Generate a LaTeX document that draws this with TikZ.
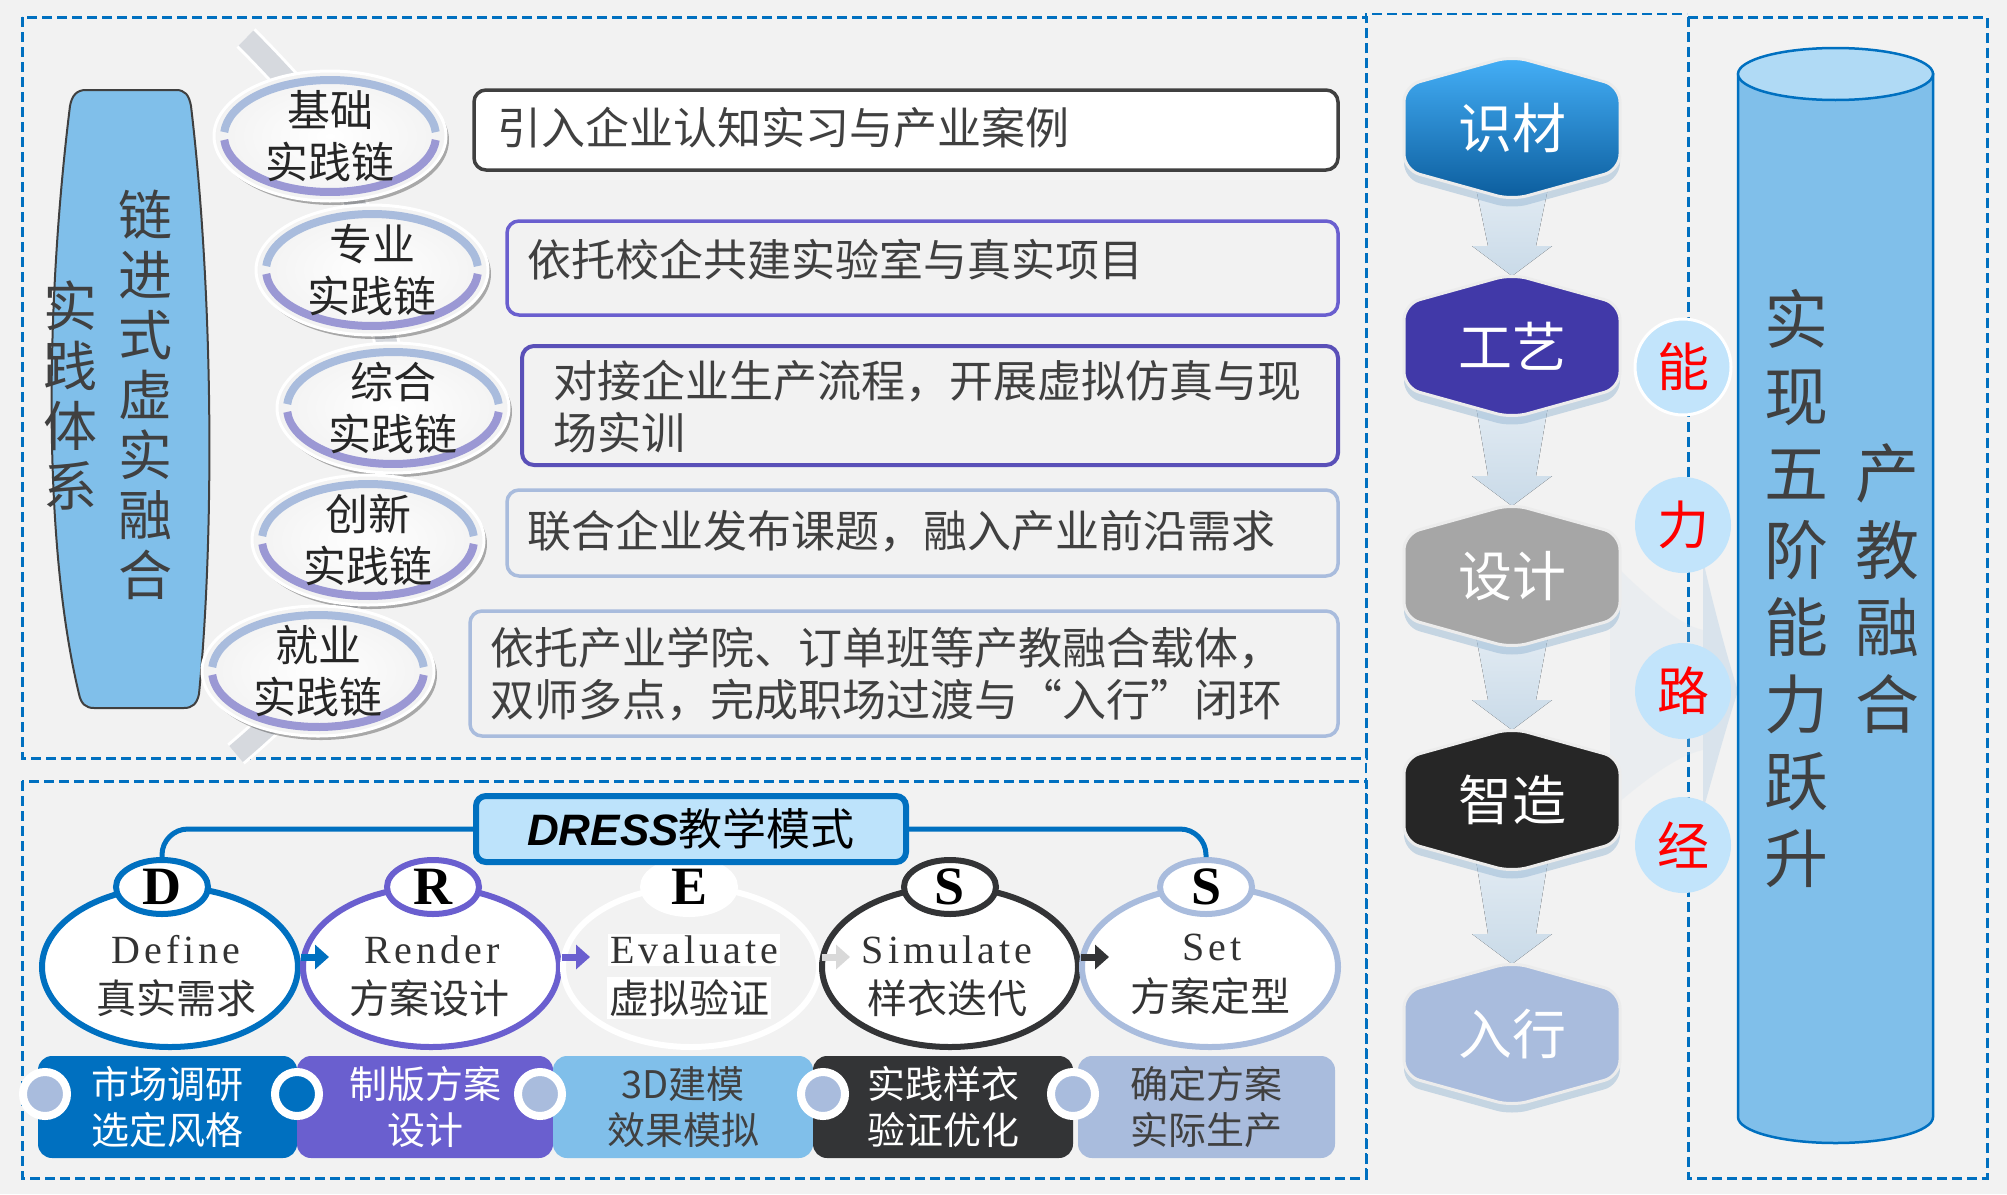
\documentclass[tikz,border=0pt]{standalone}
\usepackage{fontspec}
\setmainfont{Liberation Serif}
\newfontfamily\cjk{Noto Sans CJK SC}
\newfontfamily\dressfont{Liberation Sans}
\newfontfamily\wideserif[LetterSpace=10]{Liberation Serif}
\usetikzlibrary{arrows.meta,shapes.geometric,shadows,positioning}

\definecolor{pagebg}{HTML}{F2F2F2}
\definecolor{frameblue}{HTML}{0070C0}
\definecolor{textgray}{HTML}{404040}
\definecolor{skyfill}{HTML}{80BFEA}
\definecolor{skylight}{HTML}{B0DAF5}
\definecolor{paleblue}{HTML}{BDE3FB}
\definecolor{bubblefill}{HTML}{C2E4FB}
\definecolor{lavender}{HTML}{A9BCDD}
\definecolor{purpleline}{HTML}{6A5FCF}
\definecolor{deepviolet}{HTML}{5A50B8}
\definecolor{lilac}{HTML}{9B98D4}
\definecolor{craft}{HTML}{4139A8}
\definecolor{stone}{HTML}{A6A6A6}
\definecolor{coal}{HTML}{262626}
\definecolor{slate}{HTML}{333436}
\definecolor{mist}{HTML}{C9DAE8}
\definecolor{chaingray}{HTML}{D6D9DE}
\definecolor{shade}{HTML}{8FB2D0}
\definecolor{skytop}{HTML}{45B0F8}
\definecolor{skybottom}{HTML}{0B5C9C}
\definecolor{lightarrow}{HTML}{D9D9D9}

\begin{document}
\begin{tikzpicture}[
        x=1pt, y=-1pt,
        >={Triangle[length=14pt,width=24pt]},
        every node/.style={inner sep=0pt, text=textgray},
        frame/.style={draw=frameblue, line width=3pt, dash pattern=on 10pt off 5pt},
        linkring/.style={ellipse, minimum width=232pt, minimum height=130pt,
            inner color=white, outer color=white!90!gray, draw=white, line width=3pt,
            drop shadow={shadow xshift=3pt, shadow yshift=-4pt, opacity=.3, fill=black},
            align=center, text=black!85, font=\cjk\fontsize{43}{52}\selectfont,
            path picture={
                \draw[lavender, line width=8pt]
                    ([shift={(4:106pt and 56pt)}]path picture bounding box.center)
                    arc[start angle=4, end angle=176, x radius=106pt, y radius=56pt];
                \draw[lilac, line width=8pt]
                    ([shift={(184:106pt and 56pt)}]path picture bounding box.center)
                    arc[start angle=184, end angle=356, x radius=106pt, y radius=56pt];
            }},
        notebox/.style={rectangle, rounded corners=12pt, line width=3.5pt},
        notetext/.style={anchor=west, align=left, font=\cjk\fontsize{44}{52}\selectfont},
        bannertext/.style={align=center, font=\cjk\fontsize{54}{60}\selectfont},
        hexbox/.style={rounded corners=16pt, draw=white!85!gray, line width=3pt,
            drop shadow={shadow xshift=0pt, shadow yshift=-9pt, opacity=.45, fill=shade}},
        hextext/.style={text=white, font=\cjk\fontsize{54}{54}\selectfont},
        bubble/.style={circle, minimum size=96pt, fill=bubblefill, text=red,
            font=\cjk\fontsize{52}{52}\selectfont},
        stagetext/.style={align=center, font=\cjk\fontsize{64}{77}\selectfont},
        dressring/.style={ellipse, minimum width=256pt, minimum height=160pt, line width=6pt},
        dresscap/.style={ellipse, minimum width=92pt, minimum height=54pt, line width=6pt,
            fill=white, text=black, font=\bfseries\fontsize{54}{54}\selectfont},
        dressword/.style={fill=white, inner sep=2pt, text=black!80,
            font=\wideserif\fontsize{40}{40}\selectfont},
        dresscjk/.style={fill=white, inner sep=2pt, text=black!80,
            font=\cjk\fontsize{40}{40}\selectfont},
        stepbar/.style={rectangle, rounded corners=14pt, minimum height=102pt, align=center,
            font=\cjk\fontsize{38}{46}\selectfont},
        knob/.style={circle, minimum size=44pt, draw=white, line width=8pt, fill=lavender}
    ]

    % Sfondo e cornici
    \useasboundingbox (0,0) rectangle (2007,1194);
    \fill[pagebg] (0,0) rectangle (2007,1194);
    \draw[frame] (22,17) rectangle (1366,758);
    \draw[frame] (22,781) rectangle (1366,1178);
    \draw[frame, line width=2pt] (1366,1178) -- (1366,14) -- (1687,14);
    \draw[frame] (1688,17) rectangle (1987,1178);

    % Fascia verticale
    \filldraw[fill=skyfill, draw=textgray, line width=2pt]
        (86,90) -- (176,90) .. controls (185,90) and (189,95) .. (191,106)
        .. controls (214,300) and (214,540) .. (199,694)
        .. controls (197,704) and (192,708) .. (184,708) -- (94,708)
        .. controls (86,708) and (81,704) .. (79,694)
        .. controls (42,540) and (46,300) .. (70,106)
        .. controls (72,95) and (77,90) .. (86,90) -- cycle;
    \node[bannertext] (chainname) at (145,395) {链\\进\\式\\虚\\实\\融\\合};
    \node[bannertext] (systemname) at (70,395) {实\\践\\体\\系};

    % Catena degli anelli
    \coordinate (c1) at (330,136);
    \coordinate (c2) at (372,270);
    \coordinate (c3) at (393,408);
    \coordinate (c4) at (368,540);
    \coordinate (c5) at (318,671);
    \draw[white, line width=27pt]
        plot[smooth] coordinates {(246,38) (c1) (c2) (c3) (c4) (c5) (236,754)};
    \draw[chaingray, line width=21pt]
        plot[smooth] coordinates {(246,38) (c1) (c2) (c3) (c4) (c5) (236,754)};

    \node[linkring] (link1) at (c1) {基础\\实践链};
    \node[linkring] (link2) at (c2) {专业\\实践链};
    \node[linkring] (link3) at (c3) {综合\\实践链};
    \node[linkring] (link4) at (c4) {创新\\实践链};
    \node[linkring] (link5) at (c5) {就业\\实践链};

    % Riquadri di testo
    \node[notebox, draw=textgray, fill=white, minimum width=864pt, minimum height=80pt]
        (note1) at (906,130) {};
    \node[notetext] (text1) at (497,128) {引入企业认知实习与产业案例};

    \node[notebox, draw=purpleline, minimum width=831pt, minimum height=94pt]
        (note2) at (922.5,268) {};
    \node[notetext] (text2) at (527,260) {依托校企共建实验室与真实项目};

    \node[notebox, draw=deepviolet, line width=4pt, minimum width=816pt, minimum height=119pt]
        (note3) at (930,405.5) {};
    \node[notetext] (text3) at (553,407) {对接企业生产流程，开展虚拟仿真与现\\场实训};

    \node[notebox, draw=lavender, minimum width=831pt, minimum height=86pt]
        (note4) at (922.5,533) {};
    \node[notetext] (text4) at (527,531) {联合企业发布课题，融入产业前沿需求};

    \node[notebox, draw=lavender, minimum width=868pt, minimum height=125pt]
        (note5) at (904,673.5) {};
    \node[notetext] (text5) at (490,674.5)
        {依托产业学院、订单班等产教融合载体，\\双师多点，完成职场过渡与“入行”闭环};

    % Percorso delle capacita
    \coordinate (h1) at (1512,128);
    \coordinate (h2) at (1512,346);
    \coordinate (h3) at (1512,576);
    \coordinate (h4) at (1512,800);
    \coordinate (h5) at (1512,1034);

    \fill[mist, opacity=.18] (1610,560) .. controls (1650,600) and (1680,625) .. (1703,630)
        -- (1703,750) .. controls (1680,755) and (1650,775) .. (1610,810) -- cycle;
    \fill[mist, opacity=.6] (1703,560) .. controls (1712,600) and (1725,650) .. (1738,691)
        .. controls (1725,730) and (1712,780) .. (1703,810) -- cycle;

    \foreach \hi/\lo in {h1/h2, h2/h3, h3/h4, h4/h5}
        \fill[top color=mist!55, bottom color=mist]
            ([xshift=-36pt,yshift=-60pt]\hi) -- ([xshift=-24pt,yshift=100pt]\lo)
            -- ([xshift=-40pt,yshift=100pt]\lo) -- ([yshift=70pt]\lo)
            -- ([xshift=40pt,yshift=100pt]\lo) -- ([xshift=24pt,yshift=100pt]\lo)
            -- ([xshift=36pt,yshift=-60pt]\hi) -- cycle;

    \filldraw[hexbox, top color=skytop, bottom color=skybottom]
        ([yshift=72pt]h1) -- ++(108pt,-30pt) -- ++(0pt,-84pt) -- ++(-108pt,-30pt)
        -- ++(-108pt,30pt) -- ++(0pt,84pt) -- cycle;
    \filldraw[hexbox, fill=craft]
        ([yshift=72pt]h2) -- ++(108pt,-30pt) -- ++(0pt,-84pt) -- ++(-108pt,-30pt)
        -- ++(-108pt,30pt) -- ++(0pt,84pt) -- cycle;
    \filldraw[hexbox, fill=stone]
        ([yshift=72pt]h3) -- ++(108pt,-30pt) -- ++(0pt,-84pt) -- ++(-108pt,-30pt)
        -- ++(-108pt,30pt) -- ++(0pt,84pt) -- cycle;
    \filldraw[hexbox, fill=coal]
        ([yshift=72pt]h4) -- ++(108pt,-30pt) -- ++(0pt,-84pt) -- ++(-108pt,-30pt)
        -- ++(-108pt,30pt) -- ++(0pt,84pt) -- cycle;
    \filldraw[hexbox, fill=lavender]
        ([yshift=72pt]h5) -- ++(108pt,-30pt) -- ++(0pt,-84pt) -- ++(-108pt,-30pt)
        -- ++(-108pt,30pt) -- ++(0pt,84pt) -- cycle;

    \node[hextext] (material) at (h1) {识材};
    \node[hextext] (craftname) at (h2) {工艺};
    \node[hextext] (design) at (h3) {设计};
    \node[hextext] (making) at (h4) {智造};
    \node[hextext] (entry) at (h5) {入行};

    \node[bubble, draw=white, line width=3pt] (neng) at (1683,367) {能};
    \node[bubble] (li) at (1683,525) {力};
    \node[bubble] (lu) at (1683,691) {路};
    \node[bubble] (jing) at (1683,845) {经};

    % Cilindro
    \filldraw[fill=skyfill, draw=frameblue, line width=2.5pt]
        (1738,74) -- (1738,1117)
        arc[start angle=180, end angle=360, x radius=97.5pt, y radius=26pt]
        -- (1933,74) -- cycle;
    \filldraw[fill=skylight, draw=frameblue, line width=2.5pt]
        (1835.5,74) ellipse [x radius=97.5pt, y radius=26pt];
    \node[stagetext] (leap) at (1796,589) {实\\现\\五\\阶\\能\\力\\跃\\升};
    \node[stagetext] (fusion) at (1887,589) {产\\教\\融\\合};

    % Modello DRESS
    \node[dressring, draw=frameblue, fill=white] (dring) at (170,967) {};
    \node[dressring, draw=purpleline, fill=white] (rring) at (431,967) {};
    \node[dressring, draw=white] (ering) at (691,967) {};
    \node[dressring, draw=slate, fill=white] (sring) at (950,967) {};
    \node[dressring, draw=lavender, fill=white] (tring) at (1210,967) {};

    \draw[->, frameblue, line width=7pt] ([yshift=10pt]dring.east) -- ++(28,0);
    \draw[->, purpleline, line width=7pt] ([yshift=10pt]rring.east) -- ++(28,0);
    \draw[->, lightarrow, line width=7pt] ([yshift=10pt]ering.east) -- ++(28,0);
    \draw[->, slate, line width=7pt] ([yshift=10pt]sring.east) -- ++(28,0);

    \node[dresscap, draw=frameblue] (dcap) at (162,887) {D};
    \node[dresscap, draw=purpleline] (rcap) at (433,887) {R};
    \node[dresscap, draw=white] (ecap) at (689,887) {E};
    \node[dresscap, draw=slate] (scap) at (950,887) {S};
    \node[dresscap, draw=lavender] (tcap) at (1206,887) {S};

    \node[dressword] (dword) at (176,950) {Define};
    \node[dresscjk] (dcjk) at (176,998) {真实需求};
    \node[dressword] (rword) at (432,950) {Render};
    \node[dresscjk] (rcjk) at (429,998) {方案设计};
    \node[dressword] (eword) at (694,950) {Evaluate};
    \node[dresscjk] (ecjk) at (689,998) {虚拟验证};
    \node[dressword] (sword) at (947,950) {Simulate};
    \node[dresscjk] (scjk) at (947,998) {样衣迭代};
    \node[dressword] (tword) at (1212,947) {Set};
    \node[dresscjk] (tcjk) at (1210,996) {方案定型};

    \node[rectangle, rounded corners=10pt, draw=frameblue, line width=6pt, fill=paleblue,
        minimum width=430pt, minimum height=66pt, text=black, font=\fontsize{44}{44}\selectfont]
        (dress) at (691,829) {{\dressfont\bfseries\itshape DRESS}{\cjk 教学模式}};
    \draw[frameblue, line width=5pt, rounded corners=26pt] (dress.west) -| (dcap.north);
    \draw[frameblue, line width=5pt, rounded corners=26pt] (dress.east) -| (tcap.north);

    % Fasi operative
    \node[stepbar, fill=frameblue, text=white, minimum width=259pt] (market) at (167.5,1107)
        {市场调研\\选定风格};
    \node[stepbar, fill=purpleline, text=white, minimum width=256pt] (pattern) at (425,1107)
        {制版方案\\设计};
    \node[stepbar, fill=skyfill, minimum width=260pt] (model) at (683,1107)
        {3D建模\\效果模拟};
    \node[stepbar, fill=slate, text=white, minimum width=260pt] (sample) at (943,1107)
        {实践样衣\\验证优化};
    \node[stepbar, fill=lavender, minimum width=257pt] (produce) at (1206.5,1107)
        {确定方案\\实际生产};

    \node[knob] (k1) at (45,1094) {};
    \node[knob, fill=frameblue] (k2) at (297,1094) {};
    \node[knob] (k3) at (540,1094) {};
    \node[knob] (k4) at (823,1094) {};
    \node[knob] (k5) at (1073,1094) {};

\end{tikzpicture}
\end{document}
